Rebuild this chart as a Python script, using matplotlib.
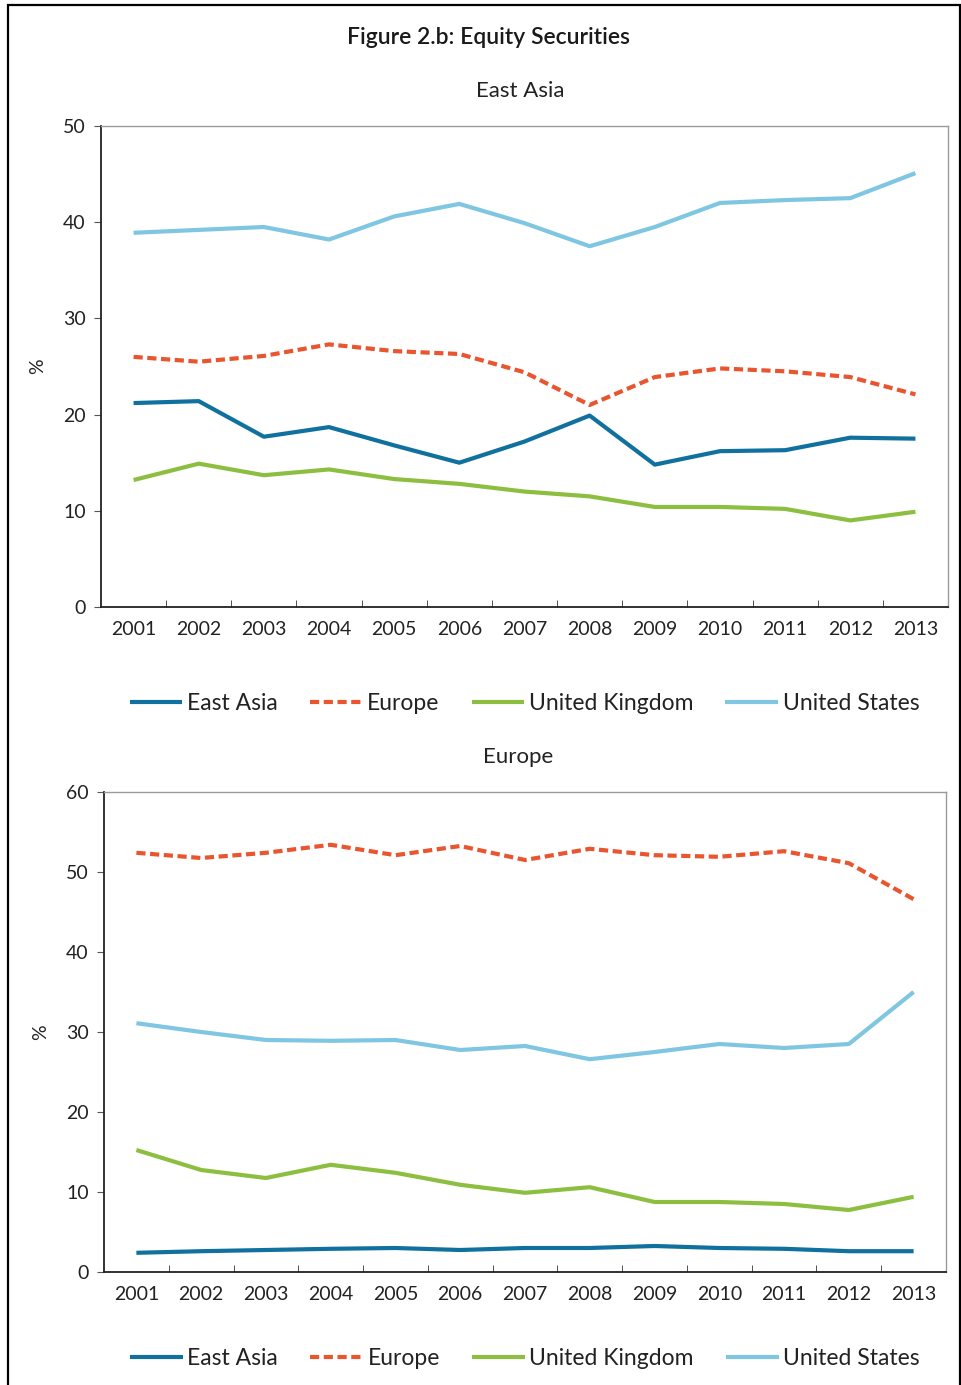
import matplotlib
matplotlib.use("Agg")
import matplotlib.pyplot as plt
from matplotlib.patches import Rectangle

plt.rcParams['font.family'] = ['Lato', 'DejaVu Sans']

years = ['2001', '2002', '2003', '2004', '2005', '2006', '2007',
         '2008', '2009', '2010', '2011', '2012', '2013']
series_names = ['East Asia', 'Europe', 'United Kingdom', 'United States']

# Panel 1: East Asia
ea_east_asia = [21.2, 21.4, 17.7, 18.7, 16.8, 15.0, 17.2, 19.9, 14.8, 16.2, 16.3, 17.6, 17.5]
ea_europe = [26.0, 25.5, 26.1, 27.3, 26.6, 26.3, 24.4, 21.0, 23.9, 24.8, 24.5, 23.9, 22.1]
ea_uk = [13.2, 14.9, 13.7, 14.3, 13.3, 12.8, 12.0, 11.5, 10.4, 10.4, 10.2, 9.0, 9.9]
ea_us = [38.9, 39.2, 39.5, 38.2, 40.6, 41.9, 39.9, 37.5, 39.5, 42.0, 42.3, 42.5, 45.1]

# Panel 2: Europe
eu_east_asia = [2.4, 2.6, 2.75, 2.9, 3.0, 2.75, 3.0, 3.0, 3.25, 3.0, 2.9, 2.6, 2.6]
eu_europe = [52.4, 51.75, 52.4, 53.4, 52.1, 53.25, 51.5, 52.9, 52.1, 51.9, 52.6, 51.1, 46.6]
eu_uk = [15.25, 12.75, 11.75, 13.4, 12.4, 10.9, 9.9, 10.6, 8.75, 8.75, 8.5, 7.75, 9.4]
eu_us = [31.1, 30.0, 29.0, 28.9, 29.0, 27.75, 28.25, 26.6, 27.5, 28.5, 28.0, 28.5, 35.0]

colors = ['#10709E', '#E8552F', '#8CBF3F', '#7FC6E2']
styles = ['-', (0, (2.2, 1.1)), '-', '-']

fig = plt.figure(figsize=(9.62, 13.85), dpi=100)

# page frame
fig.patches.append(Rectangle((8/962, -0.01), (960-8)/962, 1.01 - 5/1385,
                             transform=fig.transFigure, fill=False,
                             edgecolor='black', linewidth=1.6))

fig.text(0.508, 0.973, 'Figure 2.b: Equity Securities', ha='center', va='center',
         fontsize=16.5, fontweight='semibold', color='#1a1a1a')

def panel(rect, data, ymax, ystep, title, title_xy, legend_y):
    ax = fig.add_axes(rect)
    x = list(range(len(years)))
    for name, vals, c, ls in zip(series_names, data, colors, styles):
        ax.plot(x, vals, color=c, linestyle=ls, linewidth=3.0, label=name,
                solid_capstyle='butt', dash_capstyle='butt')
    ax.set_xlim(-0.5, len(years) - 0.5)
    ax.set_ylim(0, ymax)
    ax.set_yticks(range(0, ymax + 1, ystep))
    ax.set_xticks(x)
    ax.set_xticklabels(years)
    ax.set_xticks([i + 0.5 for i in range(len(years) - 1)], minor=True)
    ax.tick_params(axis='x', which='major', length=0, pad=10, labelsize=14, colors='#222222')
    ax.tick_params(axis='x', which='minor', length=5, direction='in', color='#333333')
    ax.tick_params(axis='y', length=5, direction='out', pad=6, labelsize=14,
                   colors='#222222', color='#555555')
    for s in ['top', 'right']:
        ax.spines[s].set_color('#9a9a9a')
        ax.spines[s].set_linewidth(1.0)
    for s in ['left', 'bottom']:
        ax.spines[s].set_color('#222222')
        ax.spines[s].set_linewidth(1.3)
    ax.set_ylabel('%', fontsize=14, labelpad=12, color='#222222')
    fig.text(title_xy[0], title_xy[1], title, ha='center', va='center',
             fontsize=16, color='#222222')
    leg = ax.legend(loc='center', bbox_to_anchor=(0.5, legend_y), ncol=4,
                    frameon=False, fontsize=16.5, handlelength=2.3,
                    handletextpad=0.2, columnspacing=1.4)
    for t in leg.get_texts():
        t.set_color('#222222')
    return ax

panel([101/962, 1 - 607/1385, (948-101)/962, (607-126)/1385],
      [ea_east_asia, ea_europe, ea_uk, ea_us], 50, 10, 'East Asia',
      (520/962, 1 - 91/1385), -0.2)

panel([104/962, 1 - 1272/1385, (946-104)/962, (1272-792)/1385],
      [eu_east_asia, eu_europe, eu_uk, eu_us], 60, 10, 'Europe',
      (518/962, 1 - 757/1385), -0.18)

fig.savefig('out.png', dpi=100)
